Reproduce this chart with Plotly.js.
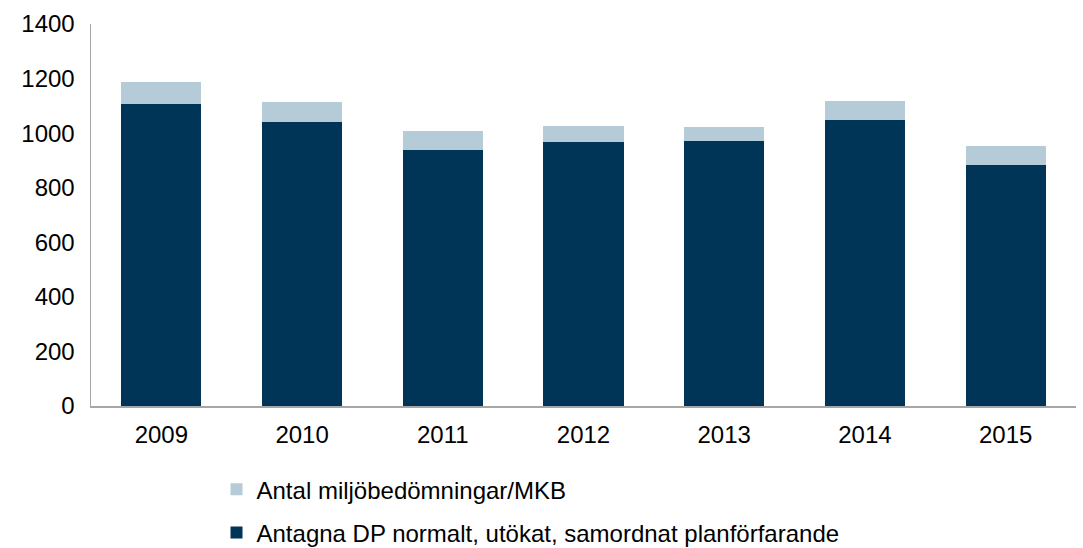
<!DOCTYPE html>
<html>
<head>
<meta charset="utf-8">
<script src="https://cdn.plot.ly/plotly-3.0.1.min.js"></script>
<style>html,body{margin:0;padding:0;background:#fff}#chart{width:1083px;height:548px}</style>
</head>
<body>
<div id="chart"></div>
<script>
const years = ['2009','2010','2011','2012','2013','2014','2015'];
const antagnaDP = [1108, 1042, 938, 967, 971, 1047, 882];
const miljobedomningar = [78, 71, 71, 61, 51, 70, 70];
const nameDP = 'Antagna DP normalt, utökat, samordnat planförfarande';
const nameMKB = 'Antal miljöbedömningar/MKB';
const yTicks = [0, 200, 400, 600, 800, 1000, 1200, 1400];

const traces = [
  {type:'bar', x: years, y: antagnaDP, name: nameDP, legendgroup:'a', legendrank:2,
   marker:{color:'#003558', line:{width:0}}, hoverinfo:'y'},
  {type:'bar', x: years, y: miljobedomningar, name: nameMKB, legendgroup:'b', legendrank:1,
   marker:{color:'#b5cbd8', line:{width:0}}, hoverinfo:'y'}
];

const layout = {
  width:1083, height:548,
  margin:{l:91, r:7, t:24, b:142, autoexpand:false},
  barmode:'stack', bargap:0.43,
  paper_bgcolor:'#fff', plot_bgcolor:'#fff',
  font:{family:'Liberation Sans, Arial, sans-serif', size:24, color:'#000'},
  xaxis:{type:'category', showline:true, linecolor:'#a6a6a6', linewidth:1.5,
         ticks:'', showgrid:false, tickfont:{size:24}, ticklabelstandoff:7},
  yaxis:{range:[0,1400], tickvals:yTicks, showline:true, linecolor:'#a6a6a6', linewidth:1.5,
         ticks:'', showgrid:false, zeroline:false, tickfont:{size:24}, ticklabelstandoff:10},
  showlegend:true,
  legend:{orientation:'v', x:138/1083, xref:'paper', xanchor:'left',
          y:-0.16, yanchor:'top', traceorder:'grouped', tracegroupgap:9,
          font:{size:24}, bgcolor:'rgba(0,0,0,0)'}
};
Plotly.newPlot('chart', traces, layout, {displayModeBar:false, staticPlot:true});
</script>
</body>
</html>
